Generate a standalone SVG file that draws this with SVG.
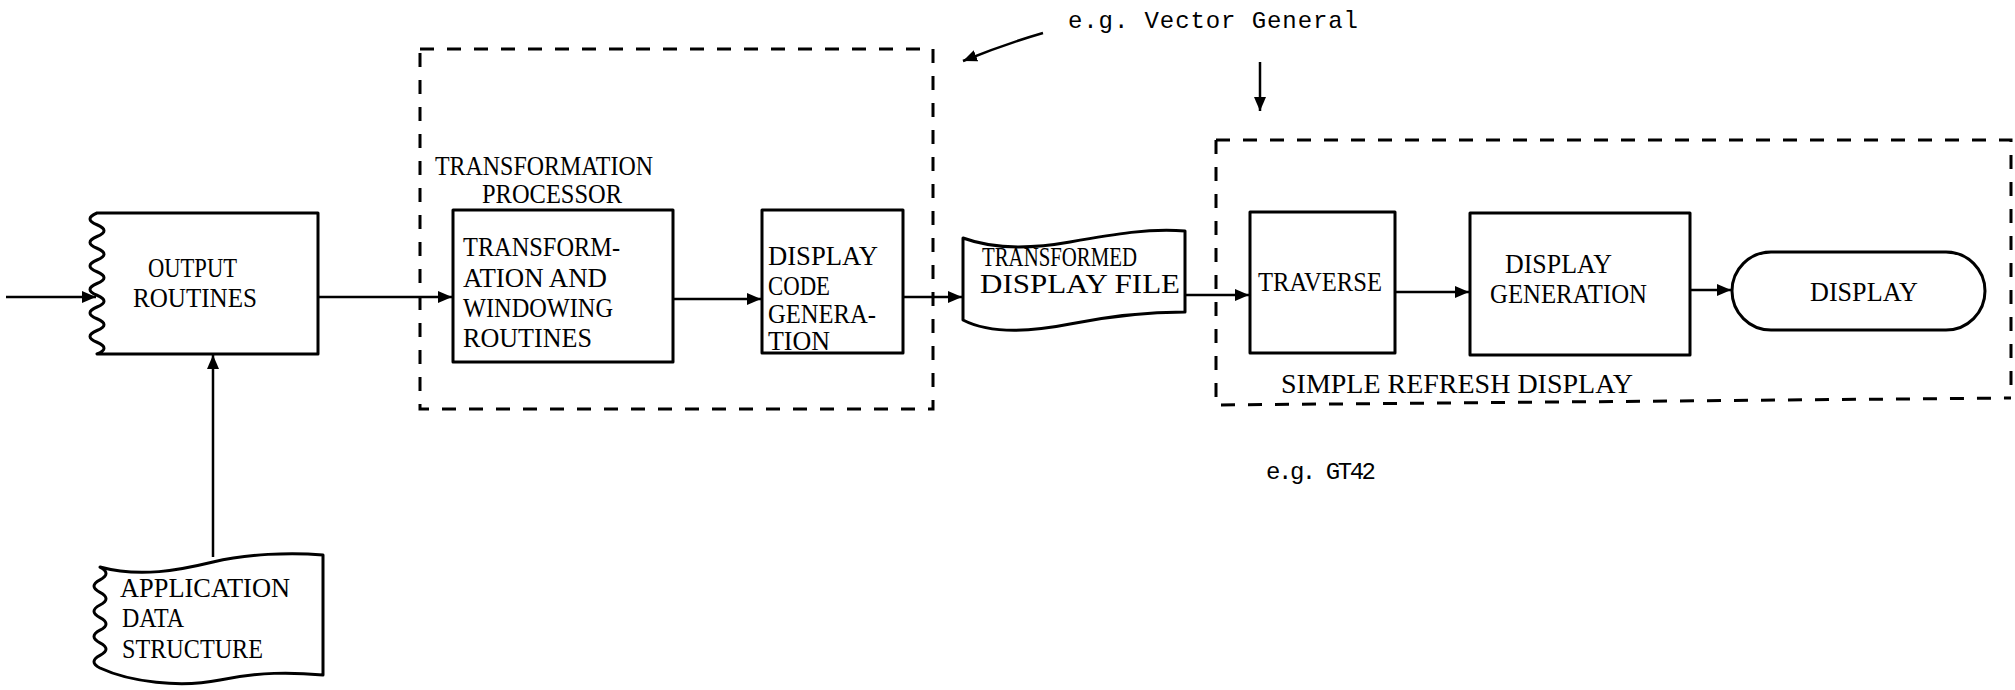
<svg xmlns="http://www.w3.org/2000/svg" width="2015" height="690" viewBox="0 0 2015 690">
<defs>
<marker id="ah" markerUnits="userSpaceOnUse" markerWidth="16" markerHeight="14" refX="14" refY="6" orient="auto">
<path d="M0,0 L14,6 L0,12 Z" fill="#000"/>
</marker>
<style>
.box{fill:#fff;stroke:#000;stroke-width:3;stroke-linejoin:round}
.dash{fill:none;stroke:#000;stroke-width:3;stroke-dasharray:14 13}
.con{fill:none;stroke:#000;stroke-width:2.5;marker-end:url(#ah)}
.t{font-family:"Liberation Serif","Times New Roman",serif;font-size:27px;fill:#000}
.m{font-family:"Liberation Mono","Courier New",monospace;font-size:24px;fill:#000}
</style>
</defs>
<rect x="0" y="0" width="2015" height="690" fill="#fff"/>

<g id="group-transformation-processor">
<rect class="dash" x="420" y="49" width="513" height="360"/>
<text class="t" x="435" y="175" textLength="218" lengthAdjust="spacingAndGlyphs">TRANSFORMATION</text>
<text class="t" x="482" y="203" textLength="140" lengthAdjust="spacingAndGlyphs">PROCESSOR</text>
</g>

<g id="group-simple-refresh">
<path class="dash" d="M1216,140 L2011,140 L2011,398 M1216,140 L1216,405 L2011,398"/>
<text class="t" x="1281" y="393" textLength="352" lengthAdjust="spacingAndGlyphs">SIMPLE REFRESH DISPLAY</text>
</g>

<g id="node-output-routines">
<path class="box" d="M318,213 L97,213 q-14,5.9 0,11.75 q14,5.9 0,11.75 q-14,5.9 0,11.75 q14,5.9 0,11.75 q-14,5.9 0,11.75 q14,5.9 0,11.75 q-14,5.9 0,11.75 q14,5.9 0,11.75 q-14,5.9 0,11.75 q14,5.9 0,11.75 q-14,5.9 0,11.75 q14,5.9 0,11.75 L318,354 Z"/>
<text class="t" x="148" y="277" textLength="89" lengthAdjust="spacingAndGlyphs">OUTPUT</text>
<text class="t" x="133" y="307" textLength="124" lengthAdjust="spacingAndGlyphs">ROUTINES</text>
</g>

<g id="node-application-data">
<path class="box" d="M100,567 C140,578 180,570 213,562 S290,552 323,555 L323,675 C290,672 260,672 220,680 S130,682 100,668 q-12,-6.3 0,-12.6 q12,-6.3 0,-12.6 q-12,-6.3 0,-12.6 q12,-6.3 0,-12.6 q-12,-6.3 0,-12.6 q12,-6.3 0,-12.6 q-12,-6.3 0,-12.6 q12,-6.3 0,-12.6 Z"/>
<text class="t" x="120" y="597" textLength="170" lengthAdjust="spacingAndGlyphs">APPLICATION</text>
<text class="t" x="122" y="627" textLength="62" lengthAdjust="spacingAndGlyphs">DATA</text>
<text class="t" x="122" y="658" textLength="141" lengthAdjust="spacingAndGlyphs">STRUCTURE</text>
</g>

<g id="node-transformation-windowing">
<rect class="box" x="453" y="210" width="220" height="152"/>
<text class="t" x="463" y="256" textLength="157" lengthAdjust="spacingAndGlyphs">TRANSFORM-</text>
<text class="t" x="463" y="287" textLength="144" lengthAdjust="spacingAndGlyphs">ATION AND</text>
<text class="t" x="463" y="317" textLength="150" lengthAdjust="spacingAndGlyphs">WINDOWING</text>
<text class="t" x="463" y="347" textLength="129" lengthAdjust="spacingAndGlyphs">ROUTINES</text>
</g>

<g id="node-display-code-generation">
<rect class="box" x="762" y="210" width="141" height="143"/>
<text class="t" x="768" y="265" textLength="110" lengthAdjust="spacingAndGlyphs">DISPLAY</text>
<text class="t" x="768" y="295" textLength="62" lengthAdjust="spacingAndGlyphs">CODE</text>
<text class="t" x="768" y="323" textLength="108" lengthAdjust="spacingAndGlyphs">GENERA-</text>
<text class="t" x="768" y="350" textLength="62" lengthAdjust="spacingAndGlyphs">TION</text>
</g>

<g id="node-transformed-display-file">
<path class="box" d="M963,238 C990,248 1025,250 1070,242 S1150,228 1185,231 L1185,312 C1150,312 1110,316 1070,324 S990,334 963,320 Z"/>
<text class="t" x="982" y="266" textLength="155" lengthAdjust="spacingAndGlyphs">TRANSFORMED</text>
<text class="t" x="980" y="293" textLength="200" lengthAdjust="spacingAndGlyphs">DISPLAY FILE</text>
</g>

<g id="node-traverse">
<rect class="box" x="1250" y="212" width="145" height="141"/>
<text class="t" x="1258" y="291" textLength="124" lengthAdjust="spacingAndGlyphs">TRAVERSE</text>
</g>

<g id="node-display-generation">
<rect class="box" x="1470" y="213" width="220" height="142"/>
<text class="t" x="1505" y="273" textLength="107" lengthAdjust="spacingAndGlyphs">DISPLAY</text>
<text class="t" x="1490" y="303" textLength="157" lengthAdjust="spacingAndGlyphs">GENERATION</text>
</g>

<g id="node-display">
<rect class="box" x="1732" y="252" width="253" height="78" rx="39" ry="39"/>
<text class="t" x="1810" y="301" textLength="108" lengthAdjust="spacingAndGlyphs">DISPLAY</text>
</g>

<g id="labels">
<text class="m" x="1068" y="28" textLength="290">e.g. Vector General</text>
<text class="m" x="1266" y="479" textLength="110">e.g. GT42</text>
</g>

<g id="connectors">
<path class="con" d="M6,297 L96,297"/>
<path class="con" d="M318,297 L452,297"/>
<path class="con" d="M673,299 L761,299"/>
<path class="con" d="M903,297 L962,297"/>
<path class="con" d="M1185,295 L1249,295"/>
<path class="con" d="M1395,292 L1469,292"/>
<path class="con" d="M1690,290 L1731,290"/>
<path class="con" d="M213,557 L213,355"/>
<path class="con" d="M1043,33 Q1005,44 963,61"/>
<path class="con" d="M1260,62 L1260,111"/>
</g>
</svg>
